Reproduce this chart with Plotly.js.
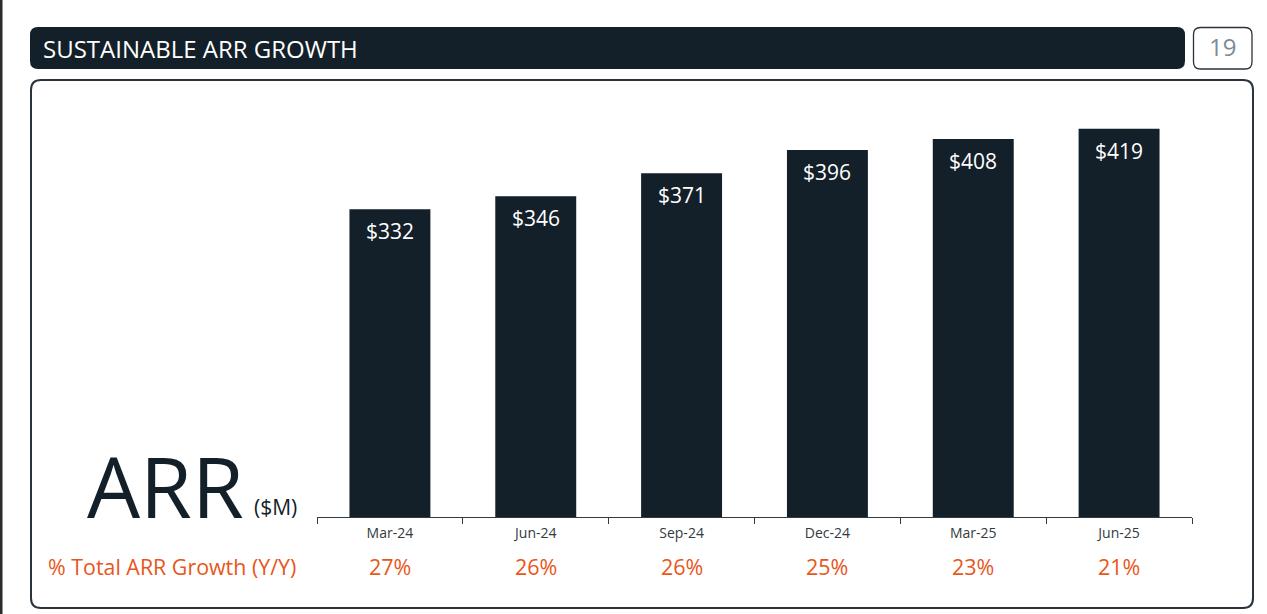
<!DOCTYPE html>
<html>
<head>
<meta charset="utf-8">
<script src="https://cdn.plot.ly/plotly-3.0.1.min.js"></script>
<style>
html,body{margin:0;padding:0;background:#fff;}
#chart{width:1267px;height:614px;}
</style>
</head>
<body>
<div id="chart"></div>
<script>
const categories = ["Mar-24","Jun-24","Sep-24","Dec-24","Mar-25","Jun-25"];
const arrValues = [332, 346, 371, 396, 408, 419];
const arrLabels = ["$332","$346","$371","$396","$408","$419"];
const growthLabels = ["27%","26%","26%","25%","23%","21%"];
const titleText = "SUSTAINABLE ARR GROWTH";
const pageNumber = "19";
const growthRowLabel = "% Total ARR Growth (Y/Y)";

const W = 1267, H = 614;
const M = {l: 317, r: 75, t: 100, b: 97};
const PW = W - M.l - M.r, PH = H - M.t - M.b;
const px = x => (x - M.l) / PW;
const py = y => (H - M.b - y) / PH;

function roundRect(x0, y0, x1, y1, r) {
  const X = v => px(v), Y = v => py(v);
  return `M ${X(x0 + r)} ${Y(y0)} L ${X(x1 - r)} ${Y(y0)} Q ${X(x1)} ${Y(y0)} ${X(x1)} ${Y(y0 + r)} ` +
         `L ${X(x1)} ${Y(y1 - r)} Q ${X(x1)} ${Y(y1)} ${X(x1 - r)} ${Y(y1)} ` +
         `L ${X(x0 + r)} ${Y(y1)} Q ${X(x0)} ${Y(y1)} ${X(x0)} ${Y(y1 - r)} ` +
         `L ${X(x0)} ${Y(y0 + r)} Q ${X(x0)} ${Y(y0)} ${X(x0 + r)} ${Y(y0)} Z`;
}

const dark = "#131f29";
const orange = "#e8561a";
const font = "Open Sans, Noto Sans, sans-serif";

const trace = {
  type: "bar",
  x: categories,
  y: arrValues,
  width: 0.555,
  marker: {color: dark, line: {width: 0}},
  hoverinfo: "skip"
};

const annotations = [];
categories.forEach((c, i) => {
  annotations.push({
    x: c, y: arrValues[i], xref: "x", yref: "y",
    text: arrLabels[i], showarrow: false,
    yanchor: "middle", yshift: -22,
    font: {family: font, size: 21, color: "#ffffff"}
  });
  annotations.push({
    x: c, y: py(566), xref: "x", yref: "paper",
    text: growthLabels[i], showarrow: false,
    yanchor: "middle",
    font: {family: font, size: 21.5, color: orange}
  });
});
annotations.push({
  x: px(298), y: py(566), xref: "paper", yref: "paper",
  text: growthRowLabel, showarrow: false, xanchor: "right", yanchor: "middle",
  font: {family: font, size: 21.4, color: orange}
});
annotations.push({
  x: px(246), y: py(485), xref: "paper", yref: "paper",
  text: "ARR", showarrow: false, xanchor: "right", yanchor: "middle",
  font: {family: font, size: 84, color: dark}
});
annotations.push({
  x: px(252), y: py(507), xref: "paper", yref: "paper",
  text: "($M)", showarrow: false, xanchor: "left", yanchor: "middle",
  font: {family: font, size: 21, color: dark}
});
annotations.push({
  x: px(41), y: py(48), xref: "paper", yref: "paper",
  text: titleText, showarrow: false, xanchor: "left", yanchor: "middle",
  font: {family: font, size: 24, color: "#ffffff"}
});
annotations.push({
  x: px(1222.5), y: py(47), xref: "paper", yref: "paper",
  text: pageNumber, showarrow: false, xanchor: "center", yanchor: "middle",
  font: {family: font, size: 24, color: "#7d8a96"}
});

const shapes = [
  {type: "path", xref: "paper", yref: "paper", path: roundRect(30, 27, 1185, 69, 8),
   fillcolor: dark, line: {width: 0}, layer: "below"},
  {type: "path", xref: "paper", yref: "paper", path: roundRect(1193.5, 27.5, 1252, 69, 7),
   fillcolor: "rgba(0,0,0,0)", line: {width: 1.3, color: "#2a333c"}, layer: "below"},
  {type: "path", xref: "paper", yref: "paper", path: roundRect(31, 80, 1253, 608, 10),
   fillcolor: "rgba(0,0,0,0)", line: {width: 2, color: "#2a333c"}, layer: "below"},
  {type: "rect", xref: "paper", yref: "paper", x0: px(0), x1: px(2.5), y0: py(0), y1: py(614),
   fillcolor: "#2b2b2b", line: {width: 0}, layer: "below"}
];

const layout = {
  width: W, height: H,
  margin: M,
  paper_bgcolor: "#ffffff",
  plot_bgcolor: "rgba(0,0,0,0)",
  showlegend: false,
  bargap: 0.445,
  xaxis: {
    type: "category",
    showline: true, linecolor: "#333a40", linewidth: 1,
    ticks: "outside", tickson: "boundaries", ticklen: 6, tickcolor: "#333a40", tickwidth: 1,
    ticklabelstandoff: 3,
    tickfont: {family: font, size: 14, color: "#333a40"},
    showgrid: false, zeroline: false, fixedrange: true
  },
  yaxis: {
    range: [0, 450], visible: false, showgrid: false, zeroline: false, fixedrange: true
  },
  shapes: shapes,
  annotations: annotations
};

Plotly.newPlot("chart", [trace], layout, {displayModeBar: false, staticPlot: true});
</script>
</body>
</html>
